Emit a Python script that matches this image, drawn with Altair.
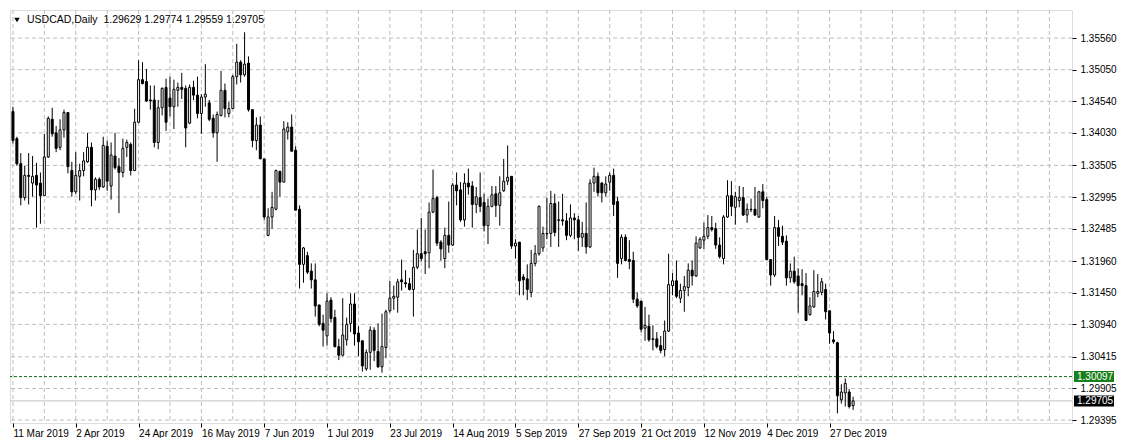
import json
import altair as alt
import pandas as pd

symbol_name = "USDCAD,Daily"

opens = [1.34374, 1.33937, 1.33532, 1.32985, 1.33344, 1.33220, 1.33344, 1.33220, 1.33016, 1.33641,
         1.34249, 1.34031, 1.33797, 1.34078, 1.34358, 1.33422, 1.33079, 1.33329, 1.33422, 1.33563,
         1.33797, 1.33110, 1.33282, 1.33157, 1.33812, 1.33173, 1.33656, 1.33485, 1.33391, 1.33797,
         1.33844, 1.33422, 1.34202, 1.34889, 1.34858, 1.34561, 1.34561, 1.33875, 1.34436, 1.34764,
         1.34592, 1.34452, 1.34717, 1.34764, 1.34748, 1.34187, 1.34764, 1.34639, 1.34343, 1.34608,
         1.34514, 1.34265, 1.34031, 1.34312, 1.34717, 1.34343, 1.34421, 1.34937, 1.35171, 1.34967,
         1.35155, 1.34405, 1.33906, 1.34156, 1.33610, 1.32376, 1.32673, 1.32797, 1.33407, 1.33235,
         1.34046, 1.34124, 1.33750, 1.32797, 1.31908, 1.32049, 1.31799, 1.31658, 1.31253, 1.30956,
         1.30753, 1.31331, 1.31050, 1.30581, 1.30441, 1.30690, 1.30956, 1.31269, 1.30800, 1.30675,
         1.30222, 1.30488, 1.30846, 1.30503, 1.30254, 1.30566, 1.31159, 1.31362, 1.31378, 1.31658,
         1.31612, 1.31596, 1.31503, 1.31861, 1.32080, 1.32111, 1.32095, 1.32751, 1.32985, 1.32267,
         1.32002, 1.32376, 1.32220, 1.33188, 1.33110, 1.32626, 1.33220, 1.33173, 1.32875, 1.32985,
         1.32907, 1.32532, 1.32844, 1.33047, 1.32860, 1.33095, 1.33251, 1.33329, 1.32205, 1.32267,
         1.31705, 1.31674, 1.31456, 1.31924, 1.32080, 1.32173, 1.32407, 1.32407, 1.32891, 1.32626,
         1.32626, 1.32610, 1.32376, 1.32657, 1.32626, 1.32345, 1.32407, 1.32189, 1.33220, 1.33329,
         1.33220, 1.33063, 1.33235, 1.33344, 1.32922, 1.32002, 1.32345, 1.31986, 1.31970, 1.31347,
         1.31315, 1.30878, 1.30909, 1.30706, 1.30706, 1.30597, 1.30534, 1.30831, 1.31565, 1.31643,
         1.31362, 1.31487, 1.31534, 1.31814, 1.31721, 1.32173, 1.32298, 1.32361, 1.32501, 1.32485,
         1.32220, 1.32002, 1.32673, 1.33016, 1.32829, 1.32938, 1.32985, 1.32704, 1.32797, 1.32797,
         1.32673, 1.33079, 1.32953, 1.31986, 1.31737, 1.32501, 1.32361, 1.32283, 1.31690, 1.31799,
         1.31721, 1.31596, 1.31565, 1.31097, 1.31222, 1.31440, 1.31456, 1.31503, 1.31159, 1.30690,
         1.30644, 1.29723, 1.29832, 1.29848, 1.29629]

highs = [1.34452, 1.33968, 1.33703, 1.33500, 1.33703, 1.33656, 1.33547, 1.33391, 1.34015, 1.34296,
         1.34436, 1.34140, 1.34249, 1.34405, 1.34358, 1.33563, 1.33719, 1.33532, 1.33719, 1.34031,
         1.33875, 1.33313, 1.33313, 1.33968, 1.33906, 1.33875, 1.34031, 1.33625, 1.33937, 1.33922,
         1.33875, 1.34421, 1.35202, 1.35171, 1.35061, 1.34795, 1.34795, 1.34561, 1.34764, 1.34904,
         1.34937, 1.34889, 1.34842, 1.34999, 1.34795, 1.34811, 1.34873, 1.34937, 1.34655, 1.35139,
         1.34561, 1.34327, 1.34374, 1.35030, 1.34826, 1.34530, 1.34967, 1.35467, 1.35202, 1.35654,
         1.35264, 1.34405, 1.34280, 1.34296, 1.33610, 1.32813, 1.33079, 1.33438, 1.33422, 1.34218,
         1.34202, 1.34327, 1.33812, 1.32860, 1.32189, 1.32111, 1.31924, 1.31924, 1.31253, 1.31097,
         1.31440, 1.31378, 1.31175, 1.30706, 1.31362, 1.31050, 1.31440, 1.31440, 1.30909, 1.30675,
         1.30534, 1.30909, 1.30893, 1.30956, 1.31113, 1.31175, 1.31643, 1.31565, 1.31674, 1.31986,
         1.31814, 1.31690, 1.32142, 1.32470, 1.32657, 1.32470, 1.32907, 1.33438, 1.33016, 1.32298,
         1.32501, 1.32922, 1.33220, 1.33391, 1.33235, 1.33376, 1.33454, 1.33251, 1.33157, 1.33391,
         1.33047, 1.32969, 1.33173, 1.33173, 1.33329, 1.33610, 1.33828, 1.33329, 1.32314, 1.32267,
         1.31752, 1.31908, 1.32142, 1.32220, 1.32860, 1.32517, 1.32985, 1.33095, 1.33047, 1.32922,
         1.33047, 1.32735, 1.32875, 1.32735, 1.32688, 1.32595, 1.32907, 1.33282, 1.33469, 1.33391,
         1.33235, 1.33329, 1.33391, 1.33454, 1.33000, 1.32392, 1.32392, 1.32298, 1.32111, 1.31456,
         1.31315, 1.31222, 1.31097, 1.30924, 1.30815, 1.30753, 1.31002, 1.32080, 1.31768, 1.31970,
         1.31596, 1.31721, 1.31924, 1.31970, 1.32361, 1.32345, 1.32579, 1.32704, 1.32688, 1.32579,
         1.32345, 1.32704, 1.33266, 1.33251, 1.33079, 1.33173, 1.33157, 1.32891, 1.32969, 1.33157,
         1.33095, 1.33204, 1.33000, 1.31986, 1.32688, 1.32626, 1.32532, 1.32376, 1.31924, 1.32033,
         1.31846, 1.31830, 1.31768, 1.31378, 1.31814, 1.31752, 1.31690, 1.31596, 1.31159, 1.30831,
         1.30659, 1.29973, 1.30066, 1.29895, 1.29774]

lows = [1.33859, 1.33500, 1.32860, 1.32938, 1.32875, 1.33000, 1.32501, 1.32563, 1.33016, 1.33625,
        1.33968, 1.33719, 1.33750, 1.33953, 1.33376, 1.33000, 1.33047, 1.32938, 1.33329, 1.33547,
        1.32844, 1.32938, 1.33110, 1.33142, 1.33095, 1.32953, 1.33438, 1.32735, 1.33313, 1.33641,
        1.33344, 1.33422, 1.34187, 1.34811, 1.34530, 1.34405, 1.33797, 1.33766, 1.34312, 1.34062,
        1.34296, 1.34093, 1.34452, 1.34577, 1.33797, 1.34171, 1.34561, 1.34265, 1.34015, 1.34452,
        1.34218, 1.33953, 1.33563, 1.34296, 1.34280, 1.34280, 1.34421, 1.34811, 1.34842, 1.34937,
        1.34374, 1.33797, 1.33750, 1.33610, 1.32626, 1.32361, 1.32485, 1.32782, 1.33000, 1.33235,
        1.33922, 1.33734, 1.32782, 1.31518, 1.31612, 1.31752, 1.31518, 1.31065, 1.30909, 1.30581,
        1.30597, 1.30971, 1.30566, 1.30363, 1.30425, 1.30597, 1.30815, 1.30597, 1.30425, 1.30176,
        1.30191, 1.30207, 1.30347, 1.30238, 1.30160, 1.30394, 1.31128, 1.31175, 1.31128, 1.31487,
        1.31534, 1.31487, 1.31065, 1.31830, 1.31955, 1.31752, 1.31846, 1.32735, 1.32205, 1.31970,
        1.31846, 1.32095, 1.32205, 1.32860, 1.32595, 1.32517, 1.33031, 1.32501, 1.32735, 1.32751,
        1.32439, 1.32236, 1.32829, 1.32673, 1.32532, 1.33079, 1.33188, 1.32158, 1.32002, 1.31409,
        1.31409, 1.31331, 1.31378, 1.31877, 1.32049, 1.32111, 1.32314, 1.32189, 1.32361, 1.32189,
        1.32532, 1.32298, 1.32345, 1.32314, 1.32126, 1.32189, 1.32080, 1.32173, 1.33079, 1.33000,
        1.32907, 1.33000, 1.33095, 1.32688, 1.31690, 1.31908, 1.31955, 1.31830, 1.31284, 1.31206,
        1.30815, 1.30675, 1.30659, 1.30519, 1.30550, 1.30472, 1.30425, 1.30815, 1.31409, 1.31362,
        1.31284, 1.31144, 1.31393, 1.31565, 1.31705, 1.32158, 1.32158, 1.32314, 1.32439, 1.32158,
        1.32002, 1.31908, 1.32657, 1.32688, 1.32548, 1.32829, 1.32688, 1.32579, 1.32751, 1.32688,
        1.32657, 1.32813, 1.31970, 1.31565, 1.31705, 1.32205, 1.32220, 1.31565, 1.31612, 1.31596,
        1.31128, 1.31409, 1.31002, 1.31081, 1.31206, 1.31378, 1.31409, 1.31018, 1.30628, 1.30628,
        1.29504, 1.29661, 1.29614, 1.29583, 1.29559]

closes = [1.33906, 1.33532, 1.32985, 1.33344, 1.33329, 1.33329, 1.33188, 1.33016, 1.33641, 1.34265,
          1.34015, 1.33781, 1.34078, 1.34358, 1.33485, 1.33079, 1.33344, 1.33422, 1.33578, 1.33797,
          1.33110, 1.33282, 1.33157, 1.33828, 1.33251, 1.33672, 1.33469, 1.33391, 1.33781, 1.33875,
          1.33422, 1.34202, 1.34889, 1.34826, 1.34546, 1.34546, 1.33875, 1.34436, 1.34748, 1.34202,
          1.34452, 1.34733, 1.34764, 1.34733, 1.34109, 1.34764, 1.34639, 1.34343, 1.34608, 1.34655,
          1.34249, 1.34031, 1.34327, 1.34717, 1.34421, 1.34421, 1.34937, 1.35171, 1.34967, 1.35139,
          1.34405, 1.33906, 1.34156, 1.33610, 1.32673, 1.32673, 1.32829, 1.33422, 1.33235, 1.34093,
          1.34124, 1.33734, 1.32782, 1.31908, 1.32173, 1.31783, 1.31658, 1.31237, 1.30940, 1.30846,
          1.31315, 1.31035, 1.30581, 1.30441, 1.30768, 1.30940, 1.31269, 1.30784, 1.30659, 1.30269,
          1.30488, 1.30846, 1.30519, 1.30254, 1.30581, 1.31144, 1.31362, 1.31393, 1.31627, 1.31627,
          1.31596, 1.31503, 1.31861, 1.32080, 1.32002, 1.32080, 1.32751, 1.32969, 1.32251, 1.32158,
          1.32376, 1.32220, 1.33188, 1.33095, 1.32626, 1.33220, 1.33157, 1.32875, 1.33000, 1.32844,
          1.32532, 1.32844, 1.33031, 1.32860, 1.33063, 1.33251, 1.33313, 1.32205, 1.32251, 1.31643,
          1.31658, 1.31503, 1.31924, 1.32080, 1.32844, 1.32407, 1.32400, 1.32891, 1.32423, 1.32620,
          1.32610, 1.32376, 1.32657, 1.32626, 1.32345, 1.32407, 1.32189, 1.33220, 1.33329, 1.33063,
          1.33063, 1.33204, 1.33344, 1.32875, 1.31924, 1.32345, 1.31970, 1.31955, 1.31347, 1.31237,
          1.30862, 1.30924, 1.30690, 1.30697, 1.30581, 1.30519, 1.30831, 1.31581, 1.31643, 1.31393,
          1.31487, 1.31549, 1.31814, 1.31721, 1.32251, 1.32314, 1.32361, 1.32501, 1.32470, 1.32220,
          1.32033, 1.32673, 1.33016, 1.32844, 1.33000, 1.32985, 1.32704, 1.32797, 1.32790, 1.32704,
          1.33079, 1.32938, 1.31986, 1.31737, 1.32501, 1.32361, 1.32267, 1.31690, 1.31799, 1.31627,
          1.31565, 1.31565, 1.31002, 1.31237, 1.31471, 1.31471, 1.31627, 1.31144, 1.30800, 1.30659,
          1.29786, 1.29848, 1.29988, 1.29614, 1.29705]

date_labels = ["11 Mar 2019", "2 Apr 2019", "24 Apr 2019", "16 May 2019", "7 Jun 2019",
               "1 Jul 2019", "23 Jul 2019", "14 Aug 2019", "5 Sep 2019", "27 Sep 2019",
               "21 Oct 2019", "12 Nov 2019", "4 Dec 2019", "27 Dec 2019"]
date_label_bars = [0, 16, 32, 48, 64, 80, 96, 112, 128, 144, 160, 176, 192, 208]
grid_bars = list(range(0, 270, 8))
price_ticks = [1.35560, 1.35050, 1.34540, 1.34030, 1.33505, 1.32995, 1.32485,
               1.31960, 1.31450, 1.30940, 1.30415, 1.29905, 1.29395]
level_price = 1.30097
bid_price = closes[-1]

W, H = 1062, 413
FONT = "Liberation Sans, Arial, sans-serif"
FS = 10
GRID = "#BEBEBE"
GREEN = "#17801A"
GREEN_LINE = "#16661A"

n = len(opens)
candles = pd.DataFrame({"bar": list(range(n)), "o": opens, "h": highs, "l": lows, "c": closes})

x_scale = alt.Scale(domain=[-0.75, 269.75], nice=False, zero=False, padding=0)
y_scale = alt.Scale(domain=[1.29348, 1.36013], nice=False, zero=False, padding=0)

label_expr = f"{json.dumps(date_labels)}[indexof({json.dumps(date_label_bars)}, datum.value)]"
x_axis = alt.Axis(values=date_label_bars, labelExpr=label_expr, title=None, grid=False,
                  domain=False, ticks=True, tickSize=4, tickColor="black",
                  labelAlign="left", labelBaseline="top", labelPadding=1,
                  labelFont=FONT, labelFontSize=FS, labelColor="black",
                  labelFlush=False, labelOverlap=False)
y_axis = alt.Axis(orient="right", values=price_ticks, format=".5f", title=None, grid=False,
                  domain=False, ticks=True, tickSize=4, tickColor="black", labelPadding=4,
                  labelFont=FONT, labelFontSize=FS, labelColor="black",
                  labelFlush=False, labelOverlap=False)

X = lambda f: alt.X(f, scale=x_scale, axis=x_axis)
Y = lambda f: alt.Y(f, scale=y_scale, axis=y_axis)

grid_v = alt.Chart(pd.DataFrame({"bar": grid_bars})).mark_rule(
    color=GRID, strokeDash=[4, 3], strokeWidth=1).encode(x=X("bar:Q"))
grid_h = alt.Chart(pd.DataFrame({"p": price_ticks})).mark_rule(
    color=GRID, strokeDash=[4, 3], strokeWidth=1).encode(y=Y("p:Q"))

level = alt.Chart(pd.DataFrame({"p": [level_price]})).mark_rule(
    color=GREEN_LINE, strokeDash=[3, 2], strokeWidth=1).encode(y=Y("p:Q"))
bid = alt.Chart(pd.DataFrame({"p": [bid_price]})).mark_rule(
    color="#C0C0C0", strokeWidth=1).encode(y=Y("p:Q"))

wick = alt.Chart(candles).mark_rule(color="black", strokeWidth=1).encode(
    x=X("bar:Q"), y=Y("l:Q"), y2="h:Q")
body = alt.Chart(candles).mark_bar(width=2, stroke="black", strokeWidth=1).encode(
    x=X("bar:Q"), y=Y("o:Q"), y2="c:Q",
    fill=alt.condition("datum.c > datum.o", alt.value("white"), alt.value("black")))

tags = pd.DataFrame({"p": [level_price, bid_price],
                     "bg": [GREEN, "#000000"],
                     "txt": [f"{level_price:.5f}", f"{bid_price:.5f}"]})
tag_rect = alt.Chart(tags).mark_rect(yOffset=-5.5, y2Offset=5.5).encode(
    x=alt.value(W + 2), x2=alt.value(W + 42), y=Y("p:Q"), y2="p:Q",
    color=alt.Color("bg:N", scale=None))
tag_text = alt.Chart(tags).mark_text(align="left", baseline="middle", color="white",
                                     font=FONT, fontSize=FS).encode(
    x=alt.value(W + 5), y=Y("p:Q"), text="txt:N")

title_text = (symbol_name + "\u00a0\u00a0" +
              " ".join(f"{v:.5f}" for v in [opens[-1], highs[-1], lows[-1], closes[-1]]))
title_df = pd.DataFrame({"t": [title_text]})
title = alt.Chart(title_df).mark_text(align="left", baseline="middle", font=FONT,
                                      fontSize=10.5, color="black").encode(
    x=alt.value(17), y=alt.value(10), text="t:N")
tri = alt.Chart(title_df).mark_point(shape="triangle-down", filled=True, color="black",
                                     size=30, opacity=1).encode(
    x=alt.value(7), y=alt.value(10))

chart = alt.layer(grid_v, grid_h, level, bid, wick, body, tag_rect, tag_text, title, tri).properties(
    width=W, height=H, padding={"left": 1, "top": 1, "right": 0, "bottom": 0}
).configure_view(stroke="black", strokeWidth=1).configure(background="white")

chart.save("out.html", embed_options={"renderer": "svg", "actions": False})
